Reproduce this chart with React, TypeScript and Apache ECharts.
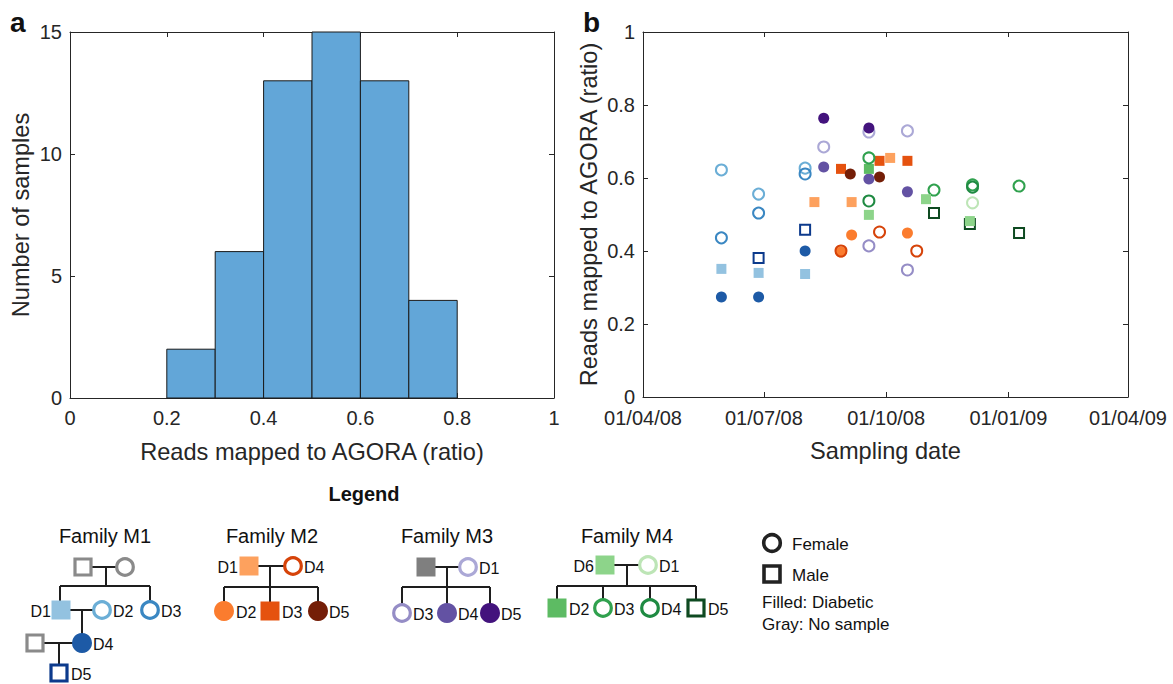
import React, { useEffect, useRef } from "react";
import * as echarts from "echarts";

// ---------- Panel a: histogram ----------
const binStarts = [0.2, 0.3, 0.4, 0.5, 0.6, 0.7];
const binWidth = 0.1;
const binCounts = [2, 6, 13, 15, 13, 4];

// ---------- Panel b: scatter (date, ratio) ----------
const quarterDates = ["2008-04-01", "2008-07-01", "2008-10-01", "2009-01-01", "2009-04-01"];
const quarterLabels = ["01/04/08", "01/07/08", "01/10/08", "01/01/09", "01/04/09"];

// Family M1
const m1D1: [string, number][] = [["2008-05-30", 0.351], ["2008-06-27", 0.340], ["2008-08-01", 0.337]];
const m1D2: [string, number][] = [["2008-05-30", 0.622], ["2008-06-27", 0.556], ["2008-08-01", 0.627]];
const m1D3: [string, number][] = [["2008-05-30", 0.436], ["2008-06-27", 0.504], ["2008-08-01", 0.611]];
const m1D4: [string, number][] = [["2008-05-30", 0.274], ["2008-06-27", 0.274], ["2008-08-01", 0.400]];
const m1D5: [string, number][] = [["2008-06-27", 0.381], ["2008-08-01", 0.458]];
// Family M2
const m2D1: [string, number][] = [["2008-08-08", 0.534], ["2008-09-05", 0.534], ["2008-10-04", 0.655]];
const m2D2: [string, number][] = [["2008-08-28", 0.397], ["2008-09-05", 0.444], ["2008-10-17", 0.449]];
const m2D3: [string, number][] = [["2008-08-28", 0.625], ["2008-09-26", 0.647], ["2008-10-17", 0.647]];
const m2D4: [string, number][] = [["2008-08-28", 0.400], ["2008-09-26", 0.452], ["2008-10-24", 0.400]];
const m2D5: [string, number][] = [["2008-09-04", 0.611], ["2008-09-26", 0.603]];
// Family M3
const m3D1: [string, number][] = [["2008-08-15", 0.685], ["2008-09-18", 0.726], ["2008-10-17", 0.729]];
const m3D3: [string, number][] = [["2008-09-18", 0.414], ["2008-10-17", 0.348]];
const m3D4: [string, number][] = [["2008-08-15", 0.630], ["2008-09-18", 0.597], ["2008-10-17", 0.562]];
const m3D5: [string, number][] = [["2008-08-15", 0.764], ["2008-09-18", 0.737]];
// Family M4
const m4D1: [string, number][] = [["2008-12-05", 0.532]];
const m4D2: [string, number][] = [["2008-09-18", 0.625]];
const m4D3: [string, number][] = [["2008-09-18", 0.655], ["2008-11-06", 0.567], ["2008-12-05", 0.581], ["2009-01-09", 0.578]];
const m4D4: [string, number][] = [["2008-09-18", 0.537], ["2008-12-05", 0.575]];
const m4D5: [string, number][] = [["2008-11-06", 0.504], ["2008-12-03", 0.474], ["2009-01-09", 0.449]];
const m4D6: [string, number][] = [["2008-09-18", 0.499], ["2008-10-31", 0.542], ["2008-12-03", 0.482]];

// colours
const C = {
  gray: "#8a8a8a",
  grayFill: "#7f7f7f",
  m1D1: "#93c2e0", m1D2: "#6baed6", m1D3: "#3a87c2", m1D4: "#1d5aa6", m1D5: "#0c3a8c",
  m2D1: "#fda15e", m2D2: "#fb7c2e", m2D3: "#e5520f", m2D4: "#d64309", m2D5: "#741e07",
  m3D1: "#aba8d6", m3D3: "#958dc6", m3D4: "#6352a3", m3D5: "#43137d",
  m4D1: "#bde5b6", m4D2: "#5dbb63", m4D3: "#30a14e", m4D4: "#1f8a42", m4D5: "#0e4a21", m4D6: "#8dd48a",
};

const DAY0 = Date.UTC(2008, 3, 1);
const toDay = (s: string) => {
  const [y, m, d] = s.split("-").map(Number);
  return (Date.UTC(y, m - 1, d) - DAY0) / 86400000;
};

type Mem = { name: string; data: [string, number][]; sex: "f" | "m"; filled: boolean; color: string };
const members: Mem[] = [
  { name: "M1 D1", data: m1D1, sex: "m", filled: true, color: C.m1D1 },
  { name: "M1 D2", data: m1D2, sex: "f", filled: false, color: C.m1D2 },
  { name: "M1 D3", data: m1D3, sex: "f", filled: false, color: C.m1D3 },
  { name: "M1 D4", data: m1D4, sex: "f", filled: true, color: C.m1D4 },
  { name: "M1 D5", data: m1D5, sex: "m", filled: false, color: C.m1D5 },
  { name: "M2 D1", data: m2D1, sex: "m", filled: true, color: C.m2D1 },
  { name: "M2 D2", data: m2D2, sex: "f", filled: true, color: C.m2D2 },
  { name: "M2 D3", data: m2D3, sex: "m", filled: true, color: C.m2D3 },
  { name: "M2 D4", data: m2D4, sex: "f", filled: false, color: C.m2D4 },
  { name: "M2 D5", data: m2D5, sex: "f", filled: true, color: C.m2D5 },
  { name: "M3 D1", data: m3D1, sex: "f", filled: false, color: C.m3D1 },
  { name: "M3 D3", data: m3D3, sex: "f", filled: false, color: C.m3D3 },
  { name: "M3 D4", data: m3D4, sex: "f", filled: true, color: C.m3D4 },
  { name: "M3 D5", data: m3D5, sex: "f", filled: true, color: C.m3D5 },
  { name: "M4 D1", data: m4D1, sex: "f", filled: false, color: C.m4D1 },
  { name: "M4 D2", data: m4D2, sex: "m", filled: true, color: C.m4D2 },
  { name: "M4 D3", data: m4D3, sex: "f", filled: false, color: C.m4D3 },
  { name: "M4 D4", data: m4D4, sex: "f", filled: false, color: C.m4D4 },
  { name: "M4 D5", data: m4D5, sex: "m", filled: false, color: C.m4D5 },
  { name: "M4 D6", data: m4D6, sex: "m", filled: true, color: C.m4D6 },
];

const FONT = "'Liberation Sans', Arial, Helvetica, sans-serif";
const AX = "#262626";

function buildGraphic() {
  const lines: any[] = [];
  const shapes: any[] = [];
  const texts: any[] = [];
  const line = (x1: number, y1: number, x2: number, y2: number) =>
    lines.push({ type: "line", shape: { x1, y1, x2, y2 }, style: { stroke: "#1e1e1e", lineWidth: 2 }, z: 10 });
  const person = (x: number, y: number, sex: "f" | "m", filled: boolean, color: string, lw = 3.2) => {
    if (sex === "m") {
      if (filled) shapes.push({ type: "rect", shape: { x: x - 9.5, y: y - 9.5, width: 19, height: 19 }, style: { fill: color }, z: 11 });
      else shapes.push({ type: "rect", shape: { x: x - 8, y: y - 8, width: 16, height: 16 }, style: { fill: "#fff", stroke: color, lineWidth: lw }, z: 11 });
    } else {
      if (filled) shapes.push({ type: "circle", shape: { cx: x, cy: y, r: 10 }, style: { fill: color }, z: 11 });
      else shapes.push({ type: "circle", shape: { cx: x, cy: y, r: 8.3 }, style: { fill: "#fff", stroke: color, lineWidth: lw }, z: 11 });
    }
  };
  const text = (x: number, y: number, s: string, align = "left", size = 17, weight = "normal") =>
    texts.push({
      type: "text", x, y, z: 12,
      style: { text: s, font: `${weight} ${size}px ${FONT}`, fill: "#111", align, verticalAlign: "middle", textAlign: align, textVerticalAlign: "middle" },
    });

  // panel letters
  text(10, 22, "a", "left", 28, "bold");
  text(583, 22, "b", "left", 28, "bold");
  // Legend title
  text(364, 494, "Legend", "center", 20, "bold");

  // Family M1
  text(105, 536, "Family M1", "center", 20);
  line(83, 567, 125, 567); line(106, 567, 106, 586); line(60, 586, 150, 586);
  line(60, 586, 60, 610); line(150, 586, 150, 610);
  line(61, 610, 102, 610); line(82, 610, 82, 643);
  line(35, 643, 82, 643); line(59, 643, 59, 673);
  person(83, 567, "m", false, C.gray); person(125, 567, "f", false, C.gray);
  person(61, 610, "m", true, C.m1D1); text(51, 611, "D1", "right", 16);
  person(102, 610, "f", false, C.m1D2); text(113, 611, "D2", "left", 16);
  person(150, 610, "f", false, C.m1D3); text(161, 611, "D3", "left", 16);
  person(35, 643, "m", false, C.gray);
  person(82, 643, "f", true, C.m1D4); text(93, 644, "D4", "left", 16);
  person(59, 673, "m", false, C.m1D5); text(71, 674, "D5", "left", 16);

  // Family M2
  text(272, 536, "Family M2", "center", 20);
  line(249, 566, 293, 566); line(270, 566, 270, 587); line(224, 587, 318, 587);
  line(224, 587, 224, 611); line(270, 587, 270, 611); line(318, 587, 318, 611);
  person(249, 566, "m", true, C.m2D1); text(238, 567, "D1", "right", 16);
  person(293, 566, "f", false, C.m2D4); text(304, 567, "D4", "left", 16);
  person(224, 611, "f", true, C.m2D2); text(236, 612, "D2", "left", 16);
  person(270, 611, "m", true, C.m2D3); text(282, 612, "D3", "left", 16);
  person(318, 611, "f", true, C.m2D5); text(329, 612, "D5", "left", 16);

  // Family M3
  text(447, 536, "Family M3", "center", 20);
  line(426, 567, 468, 567); line(447, 567, 447, 587); line(402, 587, 490, 587);
  line(402, 587, 402, 613); line(447, 587, 447, 613); line(490, 587, 490, 613);
  person(426, 567, "m", true, C.grayFill);
  person(468, 567, "f", false, C.m3D1); text(479, 568, "D1", "left", 16);
  person(402, 613, "f", false, C.m3D3); text(413, 614, "D3", "left", 16);
  person(447, 613, "f", true, C.m3D4); text(458, 614, "D4", "left", 16);
  person(490, 613, "f", true, C.m3D5); text(501, 614, "D5", "left", 16);

  // Family M4
  text(627, 536, "Family M4", "center", 20);
  line(605, 565, 648, 565); line(627, 565, 627, 586); line(557, 586, 696, 586);
  line(557, 586, 557, 608); line(603, 586, 603, 608); line(650, 586, 650, 608); line(696, 586, 696, 608);
  person(605, 565, "m", true, C.m4D6); text(594, 566, "D6", "right", 16);
  person(648, 565, "f", false, C.m4D1); text(659, 566, "D1", "left", 16);
  person(557, 608, "m", true, C.m4D2); text(569, 609, "D2", "left", 16);
  person(603, 608, "f", false, C.m4D3); text(614, 609, "D3", "left", 16);
  person(650, 608, "f", false, C.m4D4); text(661, 609, "D4", "left", 16);
  person(696, 608, "m", false, C.m4D5); text(708, 609, "D5", "left", 16);

  // key
  person(772, 543, "f", false, "#222", 3.6); text(792, 544, "Female", "left", 17);
  person(772, 574, "m", false, "#222", 3.6); text(792, 575, "Male", "left", 17);
  text(762, 602, "Filled: Diabetic", "left", 17);
  text(762, 624, "Gray: No sample", "left", 17);

  return [...lines, ...shapes, ...texts];
}

export default function App() {
  const ref = useRef<HTMLDivElement>(null);
  useEffect(() => {
    if (!ref.current) return;
    const chart = echarts.init(ref.current, undefined, { renderer: "svg" });
    const tickDays = quarterDates.map(toDay);

    const axisCommon = {
      axisLine: { show: true, onZero: false, lineStyle: { color: AX, width: 1 } },
      axisTick: { show: true, inside: true, length: 5, lineStyle: { color: AX } },
      splitLine: { show: false },
    };
    const labelStyle = { color: AX, fontSize: 20, fontFamily: FONT };
    const nameStyle = { color: AX, fontSize: 23.6, fontFamily: FONT };

    const histData = binStarts.map((b, i) => [b, b + binWidth, binCounts[i]]);

    const scatterSeries = members.map((m) => ({
      type: "scatter",
      name: m.name,
      xAxisIndex: 2,
      yAxisIndex: 2,
      symbol: m.sex === "m" ? "rect" : "circle",
      symbolSize: m.sex === "m" ? 10 : 11,
      itemStyle: m.filled
        ? { color: m.color, opacity: 1 }
        : { color: "rgba(255,255,255,0)", borderColor: m.color, borderWidth: 2, opacity: 1 },
      data: m.data.map(([d, v]) => [toDay(d), v]),
      silent: true,
    }));

    const qFormatter = (v: number) => {
      const i = tickDays.findIndex((t) => Math.abs(t - v) < 0.5);
      return i >= 0 ? quarterLabels[i] : "";
    };

    chart.setOption({
      animation: false,
      backgroundColor: "#fff",
      grid: [
        { left: 70, top: 32, width: 484, height: 366 },
        { left: 643, top: 32, width: 485, height: 365 },
      ],
      xAxis: [
        {
          gridIndex: 0, type: "value", min: 0, max: 1, interval: 0.2, position: "bottom",
          ...axisCommon,
          axisLabel: { ...labelStyle, margin: 10 },
          name: "Reads mapped to AGORA (ratio)", nameLocation: "middle", nameGap: 42, nameTextStyle: nameStyle,
        },
        {
          gridIndex: 0, type: "value", min: 0, max: 1, interval: 0.2, position: "top",
          ...axisCommon, axisLabel: { show: false },
        },
        {
          gridIndex: 1, type: "value", min: 0, max: 365, position: "bottom",
          ...axisCommon,
          axisTick: { ...axisCommon.axisTick, customValues: tickDays },
          axisLabel: { ...labelStyle, margin: 11, customValues: tickDays, formatter: qFormatter },
          name: "Sampling date", nameLocation: "middle", nameGap: 42, nameTextStyle: nameStyle,
        },
        {
          gridIndex: 1, type: "value", min: 0, max: 365, position: "top",
          ...axisCommon,
          axisTick: { ...axisCommon.axisTick, customValues: tickDays },
          axisLabel: { show: false, customValues: tickDays },
        },
      ],
      yAxis: [
        {
          gridIndex: 0, type: "value", min: 0, max: 15, interval: 5, position: "left",
          ...axisCommon,
          axisLabel: { ...labelStyle, margin: 8 },
          name: "Number of samples", nameLocation: "middle", nameGap: 37, nameTextStyle: nameStyle,
        },
        {
          gridIndex: 0, type: "value", min: 0, max: 15, interval: 5, position: "right",
          ...axisCommon, axisLabel: { show: false },
        },
        {
          gridIndex: 1, type: "value", min: 0, max: 1, interval: 0.2, position: "left",
          ...axisCommon,
          axisLabel: { ...labelStyle, margin: 8 },
          name: "Reads mapped to AGORA (ratio)", nameLocation: "middle", nameGap: 42, nameTextStyle: nameStyle,
        },
        {
          gridIndex: 1, type: "value", min: 0, max: 1, interval: 0.2, position: "right",
          ...axisCommon, axisLabel: { show: false },
        },
      ],
      series: [
        {
          type: "custom",
          xAxisIndex: 0,
          yAxisIndex: 0,
          silent: true,
          encode: { x: [0, 1], y: 2 },
          data: histData,
          renderItem: (params: any, api: any) => {
            const p0 = api.coord([api.value(0), api.value(2)]);
            const p1 = api.coord([api.value(1), 0]);
            return {
              type: "rect",
              shape: { x: p0[0], y: p0[1], width: p1[0] - p0[0], height: p1[1] - p0[1] },
              style: { fill: "#62a6d8", stroke: "#1a1a1a", lineWidth: 1 },
            };
          },
        },
        ...scatterSeries,
      ],
      graphic: buildGraphic(),
    });
    return () => chart.dispose();
  }, []);
  return <div ref={ref} style={{ position: "absolute", left: 0, top: 0, width: 1173, height: 684 }} />;
}
